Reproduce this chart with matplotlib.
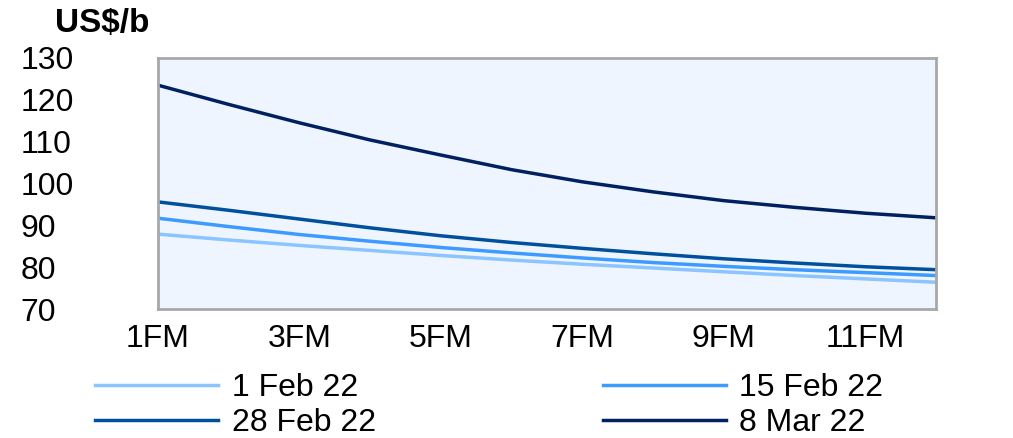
import numpy as np
import matplotlib.pyplot as plt

# ==========================================
# data
# ==========================================
months = np.arange(1, 13)
tick_pos = [1, 3, 5, 7, 9, 11]
tick_labels = ['1FM', '3FM', '5FM', '7FM', '9FM', '11FM']
y_ticks = [70, 80, 90, 100, 110, 120, 130]

feb01 = [87.9, 86.5, 85.2, 84.0, 82.8, 81.7, 80.7, 79.8, 78.9, 78.0, 77.2, 76.4]
feb15 = [91.7, 89.7, 87.8, 86.2, 84.7, 83.4, 82.2, 81.1, 80.2, 79.4, 78.7, 78.0]
feb28 = [95.6, 93.6, 91.5, 89.4, 87.5, 85.9, 84.5, 83.2, 82.0, 81.0, 80.1, 79.4]
mar08 = [123.5, 118.9, 114.5, 110.4, 106.8, 103.3, 100.4, 98.0, 95.9, 94.3, 92.9, 91.8]

series = [('1 Feb 22', feb01, '#8cc4ff'),
          ('15 Feb 22', feb15, '#3d9bff'),
          ('28 Feb 22', feb28, '#00509e'),
          ('8 Mar 22', mar08, '#002060')]

FS = 23

# ==========================================
# plot
# ==========================================
plt.rcParams['font.family'] = ['Liberation Sans', 'DejaVu Sans']
fig = plt.figure(figsize=(10.13, 4.38), dpi=100)
ax = fig.add_axes([0.156, 0.2945, 0.768, 0.5731])
ax.set_facecolor('#eef5fe')

handles = {}
for name, vals, col in series:
    handles[name], = ax.plot(months, vals, color=col, lw=2.5, label=name)

ax.set_xlim(1, 12)
ax.set_ylim(70, 130)
ax.set_xticks(tick_pos)
ax.set_xticklabels(tick_labels, fontsize=FS)
ax.set_yticks(y_ticks)
ax.set_yticklabels([str(v) for v in y_ticks], fontsize=FS)
ax.tick_params(axis='both', length=0)
ax.tick_params(axis='y', pad=99)
ax.tick_params(axis='x', pad=11)
for lab in ax.get_yticklabels():
    lab.set_horizontalalignment('left')

for sp in ax.spines.values():
    sp.set_color('#a8a8a8')
    sp.set_linewidth(2)

fig.text(0.054, 0.912, 'US$/b', fontsize=FS + 1, fontweight='bold', va='bottom', ha='left')

# legend filled row by row, like the reference
order = ['1 Feb 22', '28 Feb 22', '15 Feb 22', '8 Mar 22']
fig.legend([handles[k] for k in order], order, loc='center left',
           bbox_to_anchor=(0.094, 0.074), ncol=2, frameon=False,
           fontsize=FS, handlelength=3.85, handletextpad=0.42, columnspacing=7.1,
           labelspacing=0.17, borderpad=0, borderaxespad=0)

fig.savefig('out.png', dpi=100)
